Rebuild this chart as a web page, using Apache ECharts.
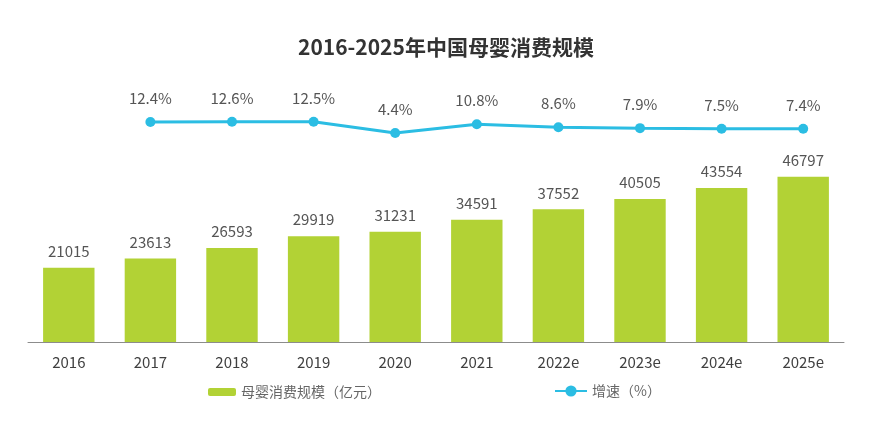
<!DOCTYPE html>
<html><head><meta charset="utf-8">
<script src="https://cdn.jsdelivr.net/npm/echarts@6/dist/echarts.min.js"></script>
<style>html,body{margin:0;padding:0;background:#fff}#c{width:872px;height:430px}</style>
</head><body><div id="c"></div>
<script>
const categories = ['2016','2017','2018','2019','2020','2021','2022e','2023e','2024e','2025e'];
const scaleValues = [21015,23613,26593,29919,31231,34591,37552,40505,43554,46797];
const growthValues = [null,12.4,12.6,12.5,4.4,10.8,8.6,7.9,7.5,7.4];
const barName = '母婴消费规模（亿元）';
const lineName = '增速（%）';
const font = '"Noto Sans CJK SC", "Noto Sans", sans-serif';
const chart = echarts.init(document.getElementById('c'));
chart.setOption({
  backgroundColor:'#fff',
  animation:false,
  textStyle:{fontFamily:font},
  title:{text:'2016-2025年中国母婴消费规模',left:293,top:32,
    textStyle:{fontSize:21,fontWeight:'bold',color:'#333',fontFamily:font}},
  legend:[
    {data:[barName],left:203,top:380,itemWidth:28,itemHeight:8,itemGap:3,
      textStyle:{fontSize:14,color:'#666',fontFamily:font}},
    {data:[lineName],left:549,top:379,itemWidth:32,itemHeight:14,itemGap:2,
      textStyle:{fontSize:14,color:'#666',fontFamily:font}}
  ],
  grid:[
    {left:28,right:28,top:130,height:212},
    {left:28,right:28,top:100,height:39}
  ],
  xAxis:[
    {type:'category',data:categories,gridIndex:0,
      axisLine:{lineStyle:{color:'#8c8c8c',width:1}},axisTick:{show:false},
      axisLabel:{fontSize:15,color:'#404040',margin:13,fontFamily:font}},
    {type:'category',data:categories,gridIndex:1,show:false}
  ],
  yAxis:[
    {type:'value',gridIndex:0,min:0,max:60000,show:false,splitLine:{show:false}},
    {type:'value',gridIndex:1,min:0,max:28.4,show:false,splitLine:{show:false}}
  ],
  series:[
    {name:barName,type:'bar',data:scaleValues,barWidth:'63%',xAxisIndex:0,yAxisIndex:0,
      itemStyle:{color:'#b2d235'},
      label:{show:true,position:'top',distance:9,fontSize:15,color:'#555',fontFamily:font}},
    {name:lineName,type:'line',data:growthValues,xAxisIndex:1,yAxisIndex:1,
      symbol:'circle',symbolSize:10,
      lineStyle:{color:'#2bbde3',width:3},itemStyle:{color:'#2bbde3'},
      label:{show:true,position:'top',distance:11,fontSize:15,color:'#555',fontFamily:font,
        formatter:p=>p.value+'%'}}
  ]
});
</script></body></html>
